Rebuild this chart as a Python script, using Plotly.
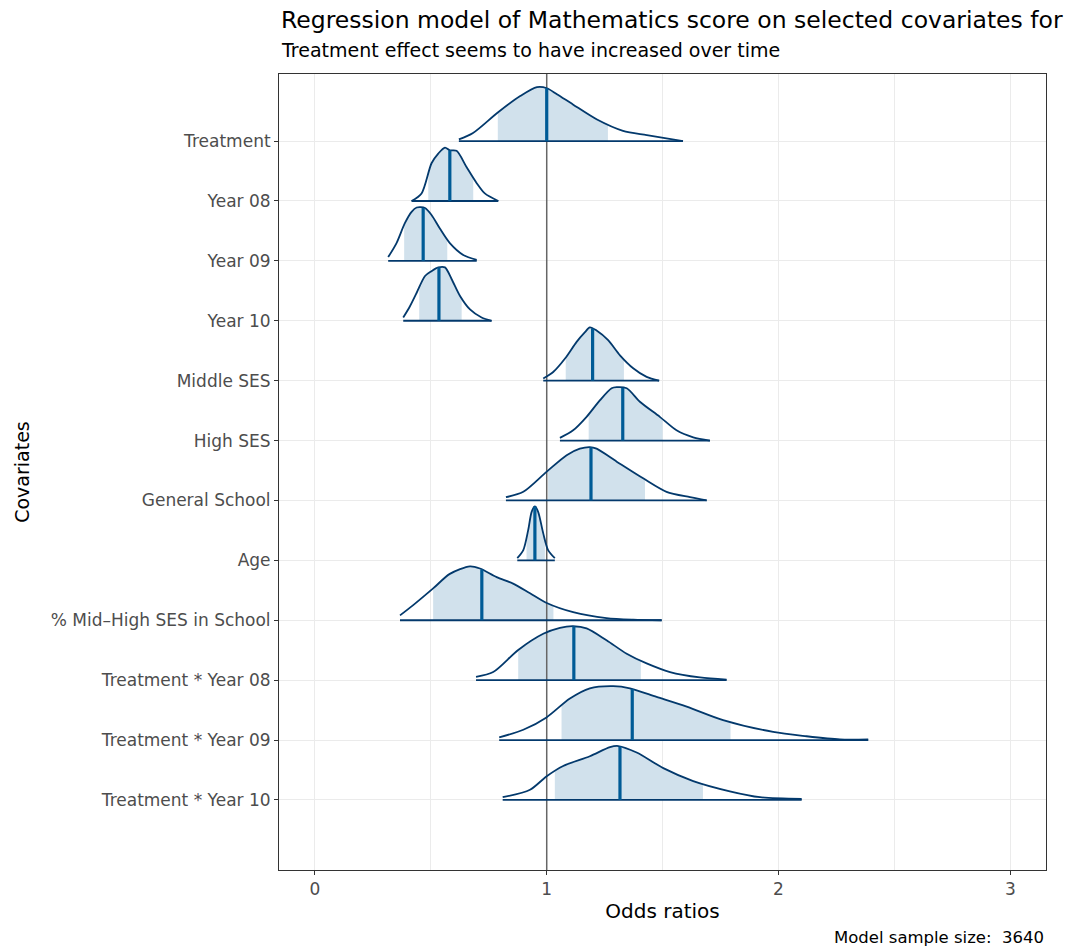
import numpy as np
import plotly.graph_objects as go

# Covariates, listed top to bottom
covariates = [
    "Treatment", "Year 08", "Year 09", "Year 10", "Middle SES", "High SES",
    "General School", "Age", "% Mid\u2013High SES in School",
    "Treatment * Year 08", "Treatment * Year 09", "Treatment * Year 10",
]

# Posterior summaries on the odds-ratio scale
medians = [1.00, 0.582, 0.467, 0.535, 1.198, 1.328, 1.191, 0.949, 0.720, 1.117, 1.369, 1.316]
inner_lo = [0.789, 0.489, 0.385, 0.450, 1.082, 1.181, 1.006, 0.913, 0.510, 0.877, 1.064, 1.035]
inner_hi = [1.264, 0.683, 0.571, 0.633, 1.333, 1.500, 1.424, 0.992, 1.029, 1.406, 1.793, 1.674]
outer_lo = [0.621, 0.417, 0.316, 0.381, 0.985, 1.057, 0.824, 0.873, 0.367, 0.695, 0.795, 0.810]
outer_hi = [1.588, 0.791, 0.698, 0.762, 1.485, 1.704, 1.690, 1.035, 1.496, 1.776, 2.387, 2.100]

# Posterior density outlines (x, relative height scaled to 1 at the mode)
dens_x = [
    [0.621, 0.682, 0.789, 0.884, 0.958, 1.001, 1.044, 1.113, 1.217, 1.329, 1.432, 1.588],
    [0.417, 0.460, 0.503, 0.532, 0.561, 0.582, 0.611, 0.654, 0.698, 0.733, 0.791],
    [0.316, 0.352, 0.388, 0.417, 0.439, 0.475, 0.503, 0.539, 0.582, 0.640, 0.698],
    [0.381, 0.410, 0.439, 0.475, 0.503, 0.532, 0.561, 0.590, 0.626, 0.669, 0.719, 0.762],
    [0.985, 1.028, 1.079, 1.129, 1.165, 1.186, 1.215, 1.265, 1.316, 1.373, 1.431, 1.485],
    [1.057, 1.114, 1.172, 1.230, 1.280, 1.302, 1.345, 1.402, 1.488, 1.560, 1.632, 1.704],
    [0.824, 0.899, 0.999, 1.086, 1.143, 1.186, 1.215, 1.302, 1.416, 1.517, 1.618, 1.690],
    [0.873, 0.899, 0.920, 0.935, 0.949, 0.963, 0.985, 1.006, 1.035],
    [0.367, 0.424, 0.510, 0.582, 0.669, 0.712, 0.784, 0.855, 0.928, 1.000, 1.114, 1.258, 1.373, 1.496],
    [0.695, 0.769, 0.877, 0.985, 1.057, 1.114, 1.172, 1.258, 1.345, 1.431, 1.532, 1.661, 1.776],
    [0.795, 0.899, 0.999, 1.100, 1.186, 1.287, 1.359, 1.474, 1.604, 1.761, 1.977, 2.121, 2.265, 2.387],
    [0.810, 0.928, 1.000, 1.071, 1.186, 1.273, 1.309, 1.388, 1.503, 1.632, 1.790, 1.920, 2.100],
]
dens_h = [
    [0.03, 0.15, 0.53, 0.83, 1.00, 0.98, 0.87, 0.68, 0.40, 0.19, 0.11, 0.00],
    [0.00, 0.14, 0.70, 0.88, 0.99, 0.94, 0.93, 0.63, 0.33, 0.14, 0.00],
    [0.07, 0.33, 0.70, 0.91, 0.99, 0.98, 0.85, 0.60, 0.33, 0.11, 0.02],
    [0.06, 0.27, 0.52, 0.83, 0.92, 0.99, 0.99, 0.77, 0.46, 0.21, 0.06, 0.00],
    [0.04, 0.16, 0.41, 0.72, 0.90, 0.99, 0.93, 0.75, 0.47, 0.23, 0.07, 0.00],
    [0.05, 0.19, 0.44, 0.75, 0.97, 0.99, 0.97, 0.72, 0.44, 0.19, 0.06, 0.00],
    [0.06, 0.16, 0.53, 0.84, 0.96, 0.99, 0.96, 0.72, 0.41, 0.16, 0.06, 0.00],
    [0.04, 0.19, 0.56, 0.90, 1.00, 0.90, 0.50, 0.19, 0.04],
    [0.09, 0.28, 0.59, 0.86, 1.00, 0.96, 0.80, 0.68, 0.50, 0.32, 0.15, 0.04, 0.01, 0.00],
    [0.06, 0.15, 0.56, 0.86, 0.97, 1.00, 0.96, 0.74, 0.49, 0.31, 0.15, 0.05, 0.01],
    [0.05, 0.19, 0.42, 0.77, 0.96, 1.00, 0.96, 0.80, 0.62, 0.37, 0.15, 0.07, 0.01, 0.01],
    [0.05, 0.19, 0.44, 0.63, 0.81, 0.98, 1.00, 0.88, 0.59, 0.35, 0.16, 0.05, 0.02],
]

x_ticks = [0, 1, 2, 3]
sample_size = 3640

DARK = "#03396c"
LIGHT = "#d1e1ec"
MID_HI = "#005b96"
RIDGE = 0.90  # ridge height in units of row spacing
FONT = "DejaVu Sans, Liberation Sans, Arial, sans-serif"

n = len(covariates)
rows = [n - i for i in range(n)]

fig = go.Figure()

# Shaded inner-interval areas
for i in range(n):
    base = rows[i]
    xs = np.array(dens_x[i])
    hs = np.array(dens_h[i])
    lo, hi = inner_lo[i], inner_hi[i]
    keep = (xs > lo) & (xs < hi)
    fx = np.concatenate([[lo], xs[keep], [hi]])
    fy = base + RIDGE * np.concatenate([[np.interp(lo, xs, hs)], hs[keep], [np.interp(hi, xs, hs)]])
    fig.add_trace(go.Scatter(x=[lo, hi], y=[base, base], mode="lines",
                             line=dict(width=0, color=LIGHT), hoverinfo="skip", showlegend=False))
    fig.add_trace(go.Scatter(x=fx, y=fy, mode="lines", fill="tonexty", fillcolor=LIGHT,
                             line=dict(width=0, color=LIGHT, shape="spline", smoothing=0.8),
                             hoverinfo="skip", showlegend=False))

# Reference line at an odds ratio of 1
fig.add_trace(go.Scatter(x=[1, 1], y=[-0.17, 13.12], mode="lines",
                         line=dict(color="#666666", width=1.5), hoverinfo="skip", showlegend=False))

# Density outlines, baselines and medians
for i in range(n):
    base = rows[i]
    xs = np.array(dens_x[i])
    hs = np.array(dens_h[i])
    fig.add_trace(go.Scatter(x=xs, y=base + RIDGE * hs, mode="lines",
                             line=dict(color=DARK, width=1.8, shape="spline", smoothing=0.8),
                             name=covariates[i], showlegend=False))
    fig.add_trace(go.Scatter(x=[outer_lo[i], outer_hi[i]], y=[base, base], mode="lines",
                             line=dict(color=DARK, width=1.8), hoverinfo="skip", showlegend=False))
    m = medians[i]
    fig.add_trace(go.Scatter(x=[m, m], y=[base, base + RIDGE * np.interp(m, xs, hs)], mode="lines",
                             line=dict(color=MID_HI, width=3.2), hoverinfo="skip", showlegend=False))

fig.update_layout(
    width=1065, height=949,
    margin=dict(l=279, r=19, t=74, b=79),
    paper_bgcolor="white", plot_bgcolor="white",
    font=dict(family=FONT, color="#000000"),
    xaxis=dict(
        range=[-0.155, 3.154], tickvals=x_ticks, ticktext=[str(t) for t in x_ticks],
        showgrid=True, gridcolor="#ebebeb", gridwidth=1.1,
        minor=dict(dtick=0.5, tick0=0, showgrid=True, gridcolor="#ebebeb", gridwidth=0.6),
        ticks="outside", ticklen=4, tickcolor="#333333", tickwidth=1,
        tickfont=dict(size=17, color="#4d4d4d"),
        showline=True, linecolor="#333333", linewidth=1, mirror=True, zeroline=False,
        title=dict(text="Odds ratios", font=dict(size=20, color="#000000"), standoff=5),
    ),
    yaxis=dict(
        range=[-0.17, 13.12], tickvals=rows, ticktext=covariates,
        showgrid=True, gridcolor="#ebebeb", gridwidth=1.1,
        ticks="outside", ticklen=4, tickcolor="#333333", tickwidth=1,
        tickfont=dict(size=17, color="#4d4d4d"),
        showline=True, linecolor="#333333", linewidth=1, mirror=True, zeroline=False,
        title=dict(text="Covariates", font=dict(size=19, color="#000000"), standoff=16),
    ),
    annotations=[
        dict(text="Regression model of Mathematics score on selected covariates for each year",
             xref="paper", yref="paper", x=0, y=1.068, xanchor="left", yanchor="middle",
             showarrow=False, font=dict(size=23.5, color="#000000")),
        dict(text="Treatment effect seems to have increased over time",
             xref="paper", yref="paper", x=0, y=1.030, xanchor="left", yanchor="middle",
             showarrow=False, font=dict(size=19, color="#000000")),
        dict(text=f"Model sample size:\u00a0 {sample_size}",
             xref="paper", yref="paper", x=1, y=-0.085, xanchor="right", yanchor="middle",
             showarrow=False, font=dict(size=16.5, color="#000000")),
    ],
)

fig.write_html("out.html")
